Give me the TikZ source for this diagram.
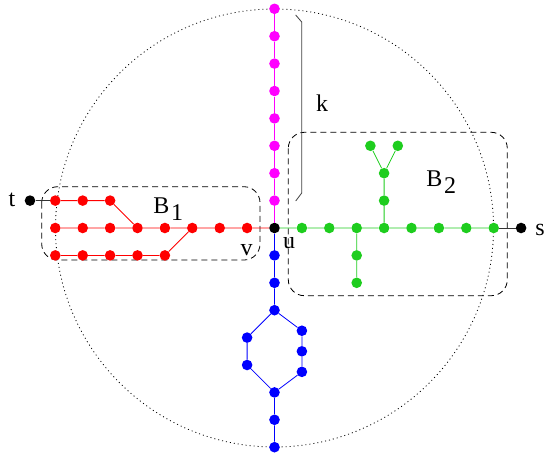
\documentclass[tikz,border=0pt]{standalone}
\usepackage{fontspec}
\setmainfont{Liberation Serif}
\begin{document}
\begin{tikzpicture}[x=1pt,y=-1pt,
  dot/.style={circle,inner sep=0pt,minimum size=10.6pt,fill=#1,draw=none},
  lbl/.style={anchor=base,inner sep=0pt,font=\fontsize{24}{24}\selectfont},
  edge/.style={draw=#1,line width=0.8pt},
  box/.style={draw=black,line width=0.8pt,dash pattern=on 6pt off 4pt,rounded corners=16pt}]
\useasboundingbox (0,0) rectangle (544,458);
\definecolor{mag}{RGB}{255,0,255}
\definecolor{rd}{RGB}{255,0,0}
\definecolor{gr}{RGB}{30,205,30}
\definecolor{bl}{RGB}{0,0,255}
\def\S{27.4}
% circle
\draw[line width=0.8pt,dash pattern=on 1pt off 3pt] (274.5,228) circle (219);
% boxes
\draw[box] (41.7,186.7) rectangle (260,260);
\draw[box] (288.3,132.3) rectangle (507.3,295.7);
% brace
\draw[black!75,line width=0.8pt] (295.7,15) -- (301.7,22) -- (301.7,193) -- (295.7,201);
% nodes
\node[dot=black] (u) at (274.5,228) {};
\foreach \i in {1,...,8} {\node[dot=mag] (m\i) at (274.5,{228-\i*\S}) {};}
\foreach \i in {1,...,8} {\node[dot=rd] (r\i) at ({274.5-\i*\S},228) {};}
\foreach \i in {1,2,3} {\node[dot=rd] (rt\i) at ({55.3+(\i-1)*\S},200.6) {};}
\foreach \i in {1,...,5} {\node[dot=rd] (rb\i) at ({55.3+(\i-1)*\S},255.4) {};}
\foreach \i in {1,...,8} {\node[dot=gr] (g\i) at ({274.5+\i*\S},228) {};}
\node[dot=gr] (gd1) at (356.7,255.4) {};
\node[dot=gr] (gd2) at (356.7,282.8) {};
\node[dot=gr] (gu1) at (384.1,200.6) {};
\node[dot=gr] (gu2) at (384.1,173.2) {};
\node[dot=gr] (gy1) at (370.4,145.8) {};
\node[dot=gr] (gy2) at (397.8,145.8) {};
\node[dot=bl] (b1) at (274.5,255.4) {};
\node[dot=bl] (b2) at (274.5,282.8) {};
\node[dot=bl] (b3) at (274.5,310.2) {};
\node[dot=bl] (hl1) at (247.1,337.6) {};
\node[dot=bl] (hl2) at (247.1,365) {};
\node[dot=bl] (hr1) at (301.9,330.75) {};
\node[dot=bl] (hr2) at (301.9,351.3) {};
\node[dot=bl] (hr3) at (301.9,371.85) {};
\node[dot=bl] (b4) at (274.5,392.4) {};
\node[dot=bl] (b5) at (274.5,419.8) {};
\node[dot=bl] (b6) at (274.5,447.2) {};
\node[dot=black] (t) at (30,200.6) {};
\node[dot=black] (s) at (521.1,228) {};
% edges
\path[edge=mag] (u) -- (m1) (m1) -- (m2) (m2) -- (m3) (m3) -- (m4) (m4) -- (m5) (m5) -- (m6) (m6) -- (m7) (m7) -- (m8);
\path[edge=rd] (u) -- (r1) (r1) -- (r2) (r2) -- (r3) (r3) -- (r4) (r4) -- (r5) (r5) -- (r6) (r6) -- (r7) (r7) -- (r8)
  (rt1) -- (rt2) (rt2) -- (rt3) (rt3) -- (r5)
  (rb1) -- (rb2) (rb2) -- (rb3) (rb3) -- (rb4) (rb4) -- (rb5) (rb5) -- (r3);
\path[edge=gr] (u) -- (g1) (g1) -- (g2) (g2) -- (g3) (g3) -- (g4) (g4) -- (g5) (g5) -- (g6) (g6) -- (g7) (g7) -- (g8)
  (g3) -- (gd1) (gd1) -- (gd2) (g4) -- (gu1) (gu1) -- (gu2) (gu2) -- (gy1) (gu2) -- (gy2);
\path[edge=bl] (u) -- (b1) (b1) -- (b2) (b2) -- (b3) (b3) -- (hl1) (hl1) -- (hl2) (hl2) -- (b4)
  (b3) -- (hr1) (hr1) -- (hr2) (hr2) -- (hr3) (hr3) -- (b4) (b4) -- (b5) (b5) -- (b6);
\path[edge=black!80] (t) -- (rt1) (g8) -- (s);
% labels
\node[lbl] (lt) at (12,206.7) {t};
\node[lbl] (ls) at (540,235) {s};
\node[lbl] (lu) at (289,248.3) {u};
\node[lbl] (lv) at (246.5,255) {v};
\node[lbl] (lk) at (322,111.7) {k};
\node[lbl] (lb1) at (161.5,213.3) {B};
\node[lbl] (lb1s) at (177,220.5) {1};
\node[lbl] (lb2) at (434.5,186) {B};
\node[lbl] (lb2s) at (450,193.3) {2};
\end{tikzpicture}
\end{document}
